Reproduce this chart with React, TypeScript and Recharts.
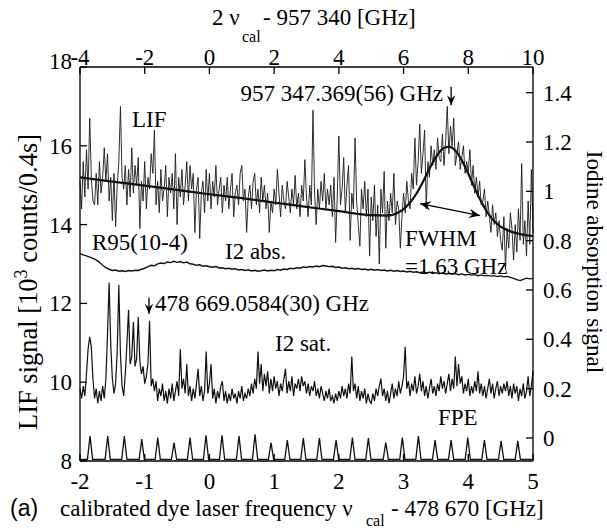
import React from 'react'
import { ComposedChart, Line, XAxis, YAxis, ReferenceLine } from 'recharts'

const W = 607
const H = 529
const SERIF = "'Liberation Serif', 'Times New Roman', Times, serif"
const SANS = "'Liberation Sans', Arial, Helvetica, sans-serif"

// frequency grid of the scan (bottom axis, GHz)
const FREQ_START = -2
const FREQ_STEP = 0.025
const ABS_STEP = 0.05

// LIF signal [10^3 counts / 0.4 s], one value per grid step
const lifSignal = [
  15.1, 14.4, 15.6, 14.7, 15.9, 14.9, 16.7, 15.2, 14.6, 14.5,
  15.3, 14.5, 15.6, 14.8, 15.2, 15.95, 15.1, 15.8, 14.6, 15.2,
  14.1, 15.3, 13.95, 15.0, 15.6, 17.0, 15.2, 14.9, 15.5, 14.5,
  15.4, 14.7, 15.95, 14.8, 15.5, 15.0, 15.7, 13.9, 15.1, 14.6,
  15.6, 14.4, 15.2, 14.9, 15.8, 15.3, 16.4, 14.5, 15.1, 14.3,
  15.4, 14.6, 14.9, 15.5, 14.2, 15.2, 14.8, 15.3, 14.4, 15.8,
  14.0, 15.2, 14.7, 15.4, 14.5, 15.0, 15.6, 14.6, 15.5, 14.9,
  15.3, 13.8, 14.9, 15.2, 13.65, 14.8, 15.1, 14.3, 15.4, 14.6,
  15.3, 14.4, 15.1, 14.7, 15.5, 14.5, 14.9, 15.2, 14.3, 15.0,
  14.6, 15.2, 14.4, 14.9, 15.3, 14.2, 14.8, 15.0, 14.5, 15.3,
  15.5, 14.6, 14.9, 13.8, 14.7, 15.0, 14.4, 15.1, 15.3, 14.5,
  14.9, 14.3, 15.2, 14.6, 15.0, 14.4, 14.8, 13.8, 14.6, 14.3,
  14.9, 14.5, 15.4, 14.8, 14.2, 15.0, 14.6, 14.4, 15.1, 14.7,
  14.3, 14.9, 14.5, 15.25, 14.4, 14.8, 14.2, 15.0, 14.6, 15.65,
  14.7, 14.2, 15.0, 14.5, 16.9, 14.8, 14.0, 14.9, 14.4, 15.1,
  14.6, 15.3, 14.4, 14.9, 14.5, 15.0, 14.2, 15.2, 13.55, 14.7,
  16.25, 14.5, 14.9, 15.7, 14.3, 15.0, 15.5, 13.6, 14.8, 14.4,
  16.2, 14.6, 14.0, 13.45, 14.9, 14.4, 15.1, 14.2, 14.9, 13.2,
  14.7, 14.1, 15.0, 13.7, 14.5, 13.0, 14.9, 14.3, 15.35, 13.4,
  14.6, 14.1, 14.8, 14.3, 15.3, 14.0, 14.6, 14.4, 13.4, 14.2,
  14.8, 14.3, 15.1, 14.6, 14.4, 15.3, 14.9, 16.2, 15.0, 15.6,
  16.55, 15.3, 15.8, 16.4, 14.4, 15.6, 15.2, 16.0, 15.5, 15.9,
  15.4, 16.2, 15.7, 15.6, 16.3, 15.5, 16.1, 17.0, 15.8, 16.5,
  16.0, 16.7, 15.5, 15.8, 16.1, 15.4, 15.7, 16.0, 15.3, 15.6,
  15.35, 15.9, 15.0, 15.5, 14.8, 15.2, 14.7, 15.1, 14.5, 14.6,
  14.9, 14.2, 14.6, 14.25, 13.8, 14.5, 14.0, 14.3, 13.7, 14.1,
  13.6, 13.35, 14.2, 12.85, 13.9, 13.4, 14.3, 13.9, 13.1, 14.0,
  13.3, 14.4, 13.6, 15.55, 13.5, 14.1, 13.2, 14.6, 13.5, 15.4,
  13.8,
]

// saturation spectrum of iodine (right axis), same grid
const i2Sat = [
  0.20, 0.16, 0.21, 0.17, 0.26, 0.36, 0.41, 0.37, 0.24, 0.16,
  0.20, 0.14, 0.19, 0.15, 0.21, 0.16, 0.24, 0.42, 0.63, 0.38,
  0.24, 0.18, 0.22, 0.35, 0.62, 0.34, 0.21, 0.17, 0.26, 0.38,
  0.52, 0.30, 0.33, 0.47, 0.29, 0.32, 0.49, 0.31, 0.26, 0.29,
  0.22, 0.25, 0.30, 0.475, 0.21, 0.24, 0.19, 0.23, 0.15, 0.20,
  0.17, 0.22, 0.15, 0.19, 0.14, 0.20, 0.16, 0.22, 0.15, 0.19,
  0.23, 0.17, 0.36, 0.20, 0.24, 0.18, 0.30, 0.17, 0.21, 0.15,
  0.20, 0.16, 0.22, 0.28, 0.17, 0.21, 0.15, 0.19, 0.35, 0.18,
  0.22, 0.30, 0.16, 0.20, 0.14, 0.19, 0.16, 0.21, 0.23, 0.15,
  0.19, 0.14, 0.18, 0.15, 0.20, 0.16, 0.18, 0.14, 0.19, 0.16,
  0.21, 0.15, 0.18, 0.16, 0.20, 0.17, 0.22, 0.18, 0.24, 0.20,
  0.35, 0.22, 0.30, 0.19, 0.26, 0.21, 0.27, 0.18, 0.24, 0.19,
  0.25, 0.20, 0.23, 0.17, 0.22, 0.19, 0.24, 0.28, 0.18, 0.23,
  0.19, 0.25, 0.17, 0.22, 0.20, 0.24, 0.19, 0.25, 0.21, 0.23,
  0.18, 0.22, 0.17, 0.21, 0.19, 0.23, 0.17, 0.20, 0.16, 0.21,
  0.18, 0.15, 0.19, 0.16, 0.20, 0.15, 0.17, 0.14, 0.18, 0.15,
  0.19, 0.16, 0.21, 0.17, 0.20, 0.16, 0.22, 0.18, 0.33, 0.19,
  0.22, 0.16, 0.21, 0.15, 0.19, 0.16, 0.20, 0.14, 0.18, 0.15,
  0.14, 0.18, 0.15, 0.20, 0.17, 0.21, 0.24, 0.17, 0.20, 0.15,
  0.19, 0.14, 0.18, 0.22, 0.16, 0.20, 0.17, 0.23, 0.18, 0.21,
  0.25, 0.37, 0.20, 0.23, 0.17, 0.22, 0.19, 0.25, 0.18, 0.21,
  0.26, 0.19, 0.23, 0.17, 0.21, 0.16, 0.20, 0.24, 0.18, 0.21,
  0.17, 0.22, 0.19, 0.25, 0.20, 0.23, 0.18, 0.22, 0.26, 0.19,
  0.24, 0.20, 0.33, 0.21, 0.30, 0.22, 0.25, 0.18, 0.22, 0.19,
  0.24, 0.17, 0.21, 0.18, 0.23, 0.19, 0.27, 0.18, 0.22, 0.17,
  0.21, 0.16, 0.20, 0.24, 0.18, 0.22, 0.16, 0.20, 0.23, 0.17,
  0.21, 0.18, 0.22, 0.19, 0.23, 0.17, 0.21, 0.16, 0.22, 0.18,
  0.21, 0.15, 0.20, 0.17, 0.22, 0.16, 0.19, 0.25, 0.17, 0.21,
  0.27,
]

// linear absorption of iodine (right axis), every 0.05 GHz
const i2Abs = [
  0.748, 0.742, 0.738, 0.733, 0.728, 0.722, 0.712, 0.700, 0.690, 0.684,
  0.679, 0.681, 0.676, 0.678, 0.675, 0.679, 0.677, 0.680, 0.679, 0.684,
  0.688, 0.695, 0.700, 0.698, 0.706, 0.709, 0.707, 0.713, 0.711, 0.716,
  0.712, 0.715, 0.710, 0.713, 0.706, 0.704, 0.700, 0.702, 0.696, 0.698,
  0.694, 0.692, 0.695, 0.689, 0.690, 0.686, 0.688, 0.684, 0.686, 0.681,
  0.683, 0.679, 0.682, 0.677, 0.680, 0.676, 0.678, 0.681, 0.677, 0.680,
  0.678, 0.683, 0.680, 0.685, 0.683, 0.688, 0.686, 0.690, 0.688, 0.693,
  0.691, 0.695, 0.693, 0.697, 0.694, 0.699, 0.697, 0.694, 0.696, 0.691,
  0.693, 0.688, 0.690, 0.686, 0.688, 0.684, 0.687, 0.683, 0.685, 0.681,
  0.684, 0.680, 0.683, 0.679, 0.681, 0.677, 0.680, 0.676, 0.679, 0.675,
  0.677, 0.673, 0.676, 0.672, 0.674, 0.670, 0.673, 0.669, 0.672, 0.668,
  0.670, 0.666, 0.669, 0.665, 0.667, 0.664, 0.666, 0.662, 0.665, 0.661,
  0.663, 0.660, 0.662, 0.658, 0.661, 0.657, 0.659, 0.656, 0.658, 0.654,
  0.657, 0.653, 0.655, 0.651, 0.647, 0.642, 0.638, 0.643, 0.648, 0.645,
  0.647,
]

// fitted LIF line profile (baseline + gaussian)
const fitFreq = [-2, -1.5, -1, -0.5, 0, 0.5, 1, 1.5, 2, 2.5, 2.75, 3.0, 3.1, 3.2, 3.3, 3.4, 3.5, 3.6, 3.7, 3.8, 3.9, 4.0, 4.1, 4.2, 4.3, 4.4, 4.5, 4.6, 4.8, 5.0]
const fitValue = [15.2, 15.09, 14.99, 14.88, 14.77, 14.67, 14.56, 14.45, 14.34, 14.24, 14.23, 14.39, 14.56, 14.79, 15.09, 15.42, 15.71, 15.92, 15.98, 15.88, 15.63, 15.29, 14.92, 14.58, 14.3, 14.09, 13.95, 13.86, 13.76, 13.71]

// Fabry-Perot etalon transmission peaks (right axis)
const fpePeakFreq = [-1.845, -1.572, -1.315, -1.046, -0.799, -0.547, -0.3, -0.053, 0.195, 0.457, 0.705, 0.952, 1.204, 1.451, 1.699, 1.957, 2.209, 2.456, 2.725, 2.981, 3.229, 3.487, 3.734, 3.992, 4.249, 4.507, 4.765]
const fpePeakHeight = [0.008, 0.008, 0.008, -0.005, 0.001, -0.019, 0.001, 0.011, 0.011, 0.008, 0.015, -0.019, -0.009, -0.001, -0.001, -0.009, 0.001, -0.001, -0.019, 0.001, 0.008, -0.009, -0.009, 0.001, -0.009, -0.012, -0.012]
const fpeBaseline = -0.087
const fpeHalfWidth = 0.04

const bottomTicks = [-2, -1, 0, 1, 2, 3, 4, 5]
// top axis is 2*nu - 957 340, i.e. twice the bottom offset: -4, -2, ... 10
const topTicks = [-2, -1, 0, 1, 2, 3, 4, 5]
const leftTicks = [8, 10, 12, 14, 16, 18]
const rightTicks = [0, 0.2, 0.4, 0.6, 0.8, 1, 1.2, 1.4]

const scanRows = lifSignal.map((lif, i) => ({ x: FREQ_START + i * FREQ_STEP, lif, sat: i2Sat[i] }))
const absRows = i2Abs.map((abs, i) => ({ x: FREQ_START + i * ABS_STEP, abs }))
const fitRows = fitFreq.map((x, i) => ({ x, fit: fitValue[i] }))
const fpeRows = [
  { x: -2, fpe: fpeBaseline },
  ...fpePeakFreq.flatMap((c, i) => [
    { x: c - fpeHalfWidth, fpe: fpeBaseline },
    { x: c, fpe: fpePeakHeight[i] },
    { x: c + fpeHalfWidth, fpe: fpeBaseline },
  ]),
  { x: 5, fpe: fpeBaseline },
]

const textStyle = { fontFamily: SERIF }
const tickStyle = { fill: '#000', fontSize: 23, style: textStyle }

function LeftTick(props: any) {
  const { x, y, payload } = props
  const shift = payload.value === 18 ? -6 : 0
  return (
    <text x={x} y={y + shift} dy="0.35em" textAnchor="end" fill="#000" fontSize={23} style={textStyle}>
      {payload.value}
    </text>
  )
}

function arrowHead(tx: number, ty: number, fx: number, fy: number, size: number) {
  const len = Math.hypot(tx - fx, ty - fy) || 1
  const ux = (tx - fx) / len
  const uy = (ty - fy) / len
  const px = -uy
  const py = ux
  const bx = tx - ux * size
  const by = ty - uy * size
  const w = size * 0.42
  const nx = tx - ux * size * 0.65
  const ny = ty - uy * size * 0.65
  return `${tx},${ty} ${bx + px * w},${by + py * w} ${nx},${ny} ${bx - px * w},${by - py * w}`
}

function makeArrow(both: boolean, size: number) {
  return (props: any) => {
    const { x1, y1, x2, y2 } = props
    return (
      <g>
        <line x1={x1} y1={y1} x2={x2} y2={y2} stroke="#000" strokeWidth={1.3} />
        <polygon points={arrowHead(x2, y2, x1, y1, size)} fill="#000" />
        {both && <polygon points={arrowHead(x1, y1, x2, y2, size)} fill="#000" />}
      </g>
    )
  }
}

export default function App() {
  return (
    <div style={{ position: 'absolute', left: 0, top: 0, width: W, height: H, background: '#fff' }}>
      <ComposedChart width={W} height={H} data={scanRows} margin={{ top: 66, right: 73, bottom: 67, left: 79 }}>
        <XAxis
          xAxisId="bottom"
          dataKey="x"
          type="number"
          domain={[-2, 5]}
          ticks={bottomTicks}
          interval={0}
          height={1}
          tickSize={-7}
          tickMargin={19}
          stroke="#000"
          strokeWidth={1.4}
          tick={tickStyle}
        />
        <XAxis
          xAxisId="top"
          orientation="top"
          dataKey="x"
          type="number"
          domain={[-2, 5]}
          ticks={topTicks}
          tickFormatter={(v: number) => String(2 * v)}
          interval={0}
          height={1}
          tickSize={-7}
          tickMargin={9}
          stroke="#000"
          strokeWidth={1.3}
          tick={tickStyle}
        />
        <YAxis
          yAxisId="left"
          type="number"
          domain={[8, 18]}
          ticks={leftTicks}
          interval={0}
          width={1}
          tickSize={-7}
          tickMargin={15}
          stroke="#000"
          strokeWidth={1.3}
          tick={<LeftTick />}
        />
        <YAxis
          yAxisId="right"
          orientation="right"
          type="number"
          domain={[-0.0935, 1.504]}
          ticks={rightTicks}
          interval={0}
          width={1}
          tickSize={-7}
          tickMargin={17}
          stroke="#000"
          strokeWidth={1.3}
          tick={tickStyle}
        />
        <Line xAxisId="bottom" yAxisId="left" dataKey="lif" type="linear" stroke="#1a1a1a" strokeWidth={0.9} dot={false} isAnimationActive={false} />
        <Line xAxisId="top" yAxisId="left" data={fitRows} dataKey="fit" type="monotone" stroke="#111" strokeWidth={2.2} dot={false} isAnimationActive={false} />
        <Line xAxisId="bottom" yAxisId="right" data={absRows} dataKey="abs" type="linear" stroke="#111" strokeWidth={1.4} dot={false} isAnimationActive={false} />
        <Line xAxisId="bottom" yAxisId="right" dataKey="sat" type="linear" stroke="#111" strokeWidth={1.2} dot={false} isAnimationActive={false} />
        <Line xAxisId="bottom" yAxisId="right" data={fpeRows} dataKey="fpe" type="linear" stroke="#111" strokeWidth={1.3} dot={false} isAnimationActive={false} />
        <ReferenceLine xAxisId="bottom" yAxisId="left" segment={[{ x: 3.735, y: 17.5 }, { x: 3.735, y: 17.03 }]} shape={makeArrow(false, 10)} />
        <ReferenceLine xAxisId="bottom" yAxisId="left" segment={[{ x: -0.934, y: 12.15 }, { x: -0.934, y: 11.74 }]} shape={makeArrow(false, 10)} />
        <ReferenceLine xAxisId="bottom" yAxisId="left" segment={[{ x: 3.255, y: 14.53 }, { x: 4.18, y: 14.23 }]} shape={makeArrow(true, 11)} />
      </ComposedChart>
      <svg width={W} height={H} style={{ position: 'absolute', left: 0, top: 0, pointerEvents: 'none', fontFamily: SERIF }} fontSize={23} fill="#000">
        <text y={25}>
          <tspan x={212}>2 ν</tspan>
          <tspan x={242} dy={17} fontSize={16}>cal</tspan>
          <tspan x={263} dy={-17}>- 957 340 [GHz]</tspan>
        </text>
        <text transform="translate(37,282) rotate(-90)" textAnchor="middle" fontSize={26.5}>
          LIF signal [10<tspan dy={-10} fontSize={18}>3</tspan><tspan dy={10}> counts/0.4s]</tspan>
        </text>
        <text transform="translate(587,262) rotate(90)" textAnchor="middle" fontSize={23}>
          Iodine absorption signal
        </text>
        <text x={10} y={516} style={{ fontFamily: SANS }}>(a)</text>
        <text y={516}>
          <tspan x={60}>calibrated dye laser frequency ν</tspan>
          <tspan x={366} dy={10} fontSize={16}>cal</tspan>
          <tspan x={391} dy={-10}>- 478 670 [GHz]</tspan>
        </text>
        <text x={132} y={127}>LIF</text>
        <text x={443} y={101} textAnchor="end">957 347.369(56) GHz</text>
        <text x={92} y={250}>R95(10-4)</text>
        <text x={225} y={259}>I2 abs.</text>
        <text x={155} y={311}>478 669.0584(30) GHz</text>
        <text x={275} y={351}>I2 sat.</text>
        <text x={438} y={425}>FPE</text>
        <text x={405} y={246}>FWHM</text>
        <text x={405} y={274}>=1.63 GHz</text>
      </svg>
    </div>
  )
}
